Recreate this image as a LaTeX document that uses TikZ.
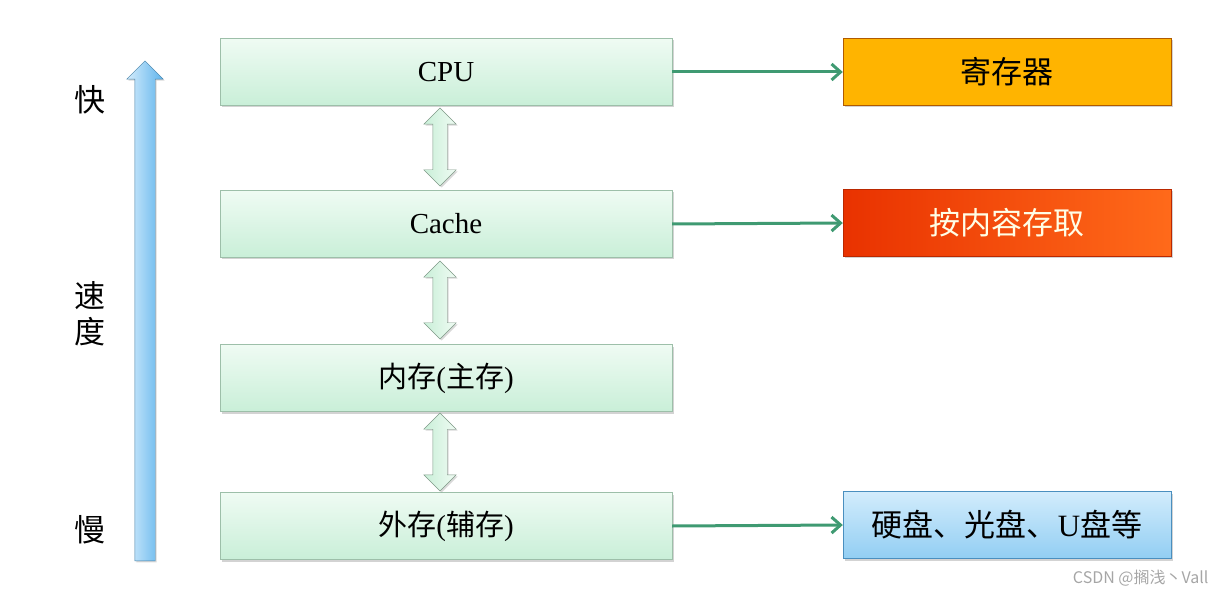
\documentclass[tikz,border=0pt]{standalone}
\usepackage{fontspec}
\setmainfont{Liberation Serif}
\newfontfamily\cjk{Noto Sans CJK SC}
\usetikzlibrary{arrows.meta,shapes.arrows,shadows}

\definecolor{boxgreen}{HTML}{C9EFD8}
\definecolor{boxgreenlt}{HTML}{EFFBF3}
\definecolor{boxedge}{HTML}{9DBFA9}
\definecolor{linkgreen}{HTML}{3F9A72}
\definecolor{regfill}{HTML}{FFB400}
\definecolor{regedge}{HTML}{B05A00}
\definecolor{camred}{HTML}{E93200}
\definecolor{camorange}{HTML}{FF6A1A}
\definecolor{extblue}{HTML}{92CEF3}
\definecolor{extbluelt}{HTML}{D2ECFC}
\definecolor{extedge}{HTML}{4A8FBF}
\definecolor{speedblue}{HTML}{5FB4EC}
\definecolor{speedbluelt}{HTML}{D4ECFC}

\tikzset{
  level/.style={draw=boxedge, top color=boxgreenlt, bottom color=boxgreen,
    minimum width=452, minimum height=67, inner sep=0pt,
    drop shadow={shadow xshift=2pt, shadow yshift=-2pt, opacity=.35},
    font=\fontsize{29}{34}\selectfont},
  side/.style={minimum width=328, minimum height=67, inner sep=0pt,
    drop shadow={shadow xshift=2pt, shadow yshift=-2pt, opacity=.35},
    font=\fontsize{31}{36}\selectfont\cjk},
  link/.style={draw=linkgreen, line width=3pt, -{Straight Barb[length=9pt, width=16pt, line width=3pt]}},
  swap/.style={double arrow, rotate=90, draw=boxedge!80!black, left color=boxgreen, right color=boxgreenlt,
    minimum height=78, double arrow head extend=9, inner xsep=0pt, inner ysep=7pt,
    drop shadow={shadow xshift=1.5pt, shadow yshift=-1.5pt, opacity=.3}},
  speed/.style={font=\fontsize{31}{36}\selectfont\cjk}
}

\begin{document}
\begin{tikzpicture}[x=1pt, y=-1pt]
  \useasboundingbox (0,0) rectangle (1224,596);

  \node[single arrow, rotate=90, draw=speedblue!70!black, left color=speedbluelt, right color=speedblue,
    minimum height=500, single arrow head extend=8, inner xsep=0pt, inner ysep=10pt,
    drop shadow={shadow xshift=1.5pt, shadow yshift=-1.5pt, opacity=.3}] (fast) at (145,316) {};

  \node[speed] (kuai) at (90,100) {快};
  \node[speed] (su) at (90,296) {速};
  \node[speed] (du) at (90,332) {度};
  \node[speed] (man) at (90,530) {慢};

  \node[level] (cpu) at (446,72) {CPU};
  \node[level] (cache) at (446,224) {Cache};
  \node[level] (mem) at (446,378) {{\cjk 内存}({\cjk 主存})};
  \node[level] (disk) at (446,526) {{\cjk 外存}({\cjk 辅存})};

  \node[side, draw=regedge, fill=regfill] (reg) at (1007,72) {寄存器};
  \node[side, draw=camred!80!black, left color=camred, right color=camorange, text=white!90!yellow] (cam) at (1007,223) {按内容存取};
  \node[side, draw=extedge, top color=extbluelt, bottom color=extblue] (ext) at (1007,525) {硬盘、光盘、{\rmfamily U}盘等};

  \node[swap] (cpucache) at (440,147) {};
  \node[swap] (cachemem) at (440,300) {};
  \node[swap] (memdisk) at (440,452) {};

  \draw[link] (cpu.east) -- (reg.west);
  \draw[link] (cache.east) -- (cam.west);
  \draw[link] (disk.east) -- (ext.west);

  \node[text=gray!70, font=\fontsize{16}{18}\selectfont\cjk, anchor=east] (mark) at (1212,578) {CSDN @搁浅丶Vall};
\end{tikzpicture}
\end{document}
